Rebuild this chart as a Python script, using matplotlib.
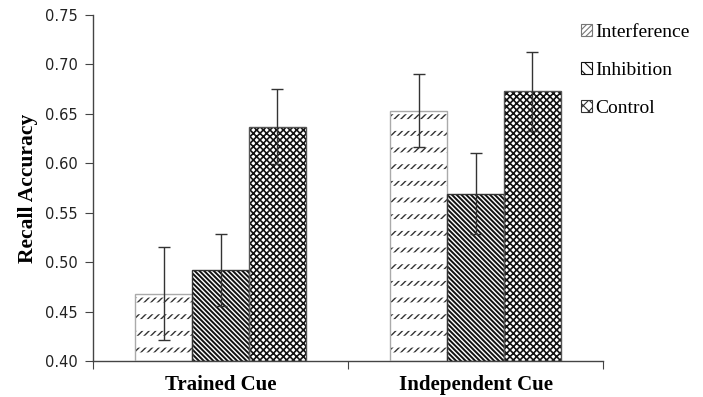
import numpy as np
import matplotlib
matplotlib.use("Agg")
import matplotlib.pyplot as plt
import matplotlib.patches as mpatches

# Data
categories = ["Trained Cue", "Independent Cue"]
groups = ["Interference", "Inhibition", "Control"]
means = {
    "Interference": [0.468, 0.653],
    "Inhibition":   [0.492, 0.569],
    "Control":      [0.637, 0.673],
}
errors = {
    "Interference": [0.047, 0.037],
    "Inhibition":   [0.036, 0.041],
    "Control":      [0.038, 0.040],
}
yticks = [0.40, 0.45, 0.50, 0.55, 0.60, 0.65, 0.70, 0.75]

# Styles
styles = {
    "Interference": dict(hatch="/////", hcol="#333333", edge="#aaaaaa", hlw=1.0),
    "Inhibition":   dict(hatch="\\" * 7, hcol="#111111", edge="#333333", hlw=1.4),
    "Control":      dict(hatch="xxxxx", hcol="#111111", edge="#555555", hlw=1.2),
}

SERIF = "Liberation Serif"
SANS = "DejaVu Sans"

fig = plt.figure(figsize=(7.03, 3.97), dpi=100)
ax = fig.add_axes([0.1323, 0.0907, 0.7255, 0.8715])

x = np.arange(len(categories))
bw = 0.223
offsets = [-bw, 0, bw]
base = 0.40

for g, off in zip(groups, offsets):
    st = styles[g]
    h = np.array(means[g]) - base
    plt.rcParams["hatch.linewidth"] = st["hlw"]
    ax.bar(x + off, h, bottom=base, width=bw, color="white",
           edgecolor=st["hcol"], hatch=st["hatch"], lw=0, zorder=2)
    if g == "Interference":
        # break diagonal lines into short dashes
        plt.rcParams["hatch.linewidth"] = 8.5
        ax.bar(x + off, h, bottom=base, width=bw, fill=False,
               edgecolor="white", hatch="-", lw=0, zorder=2.5)
    ax.bar(x + off, h, bottom=base, width=bw, fill=False,
           edgecolor=st["edge"], lw=1.0, zorder=3)
    ax.errorbar(x + off, means[g], yerr=errors[g], fmt="none",
                ecolor="#333333", elinewidth=1.0, capsize=4, capthick=1.0, zorder=4)

# legend swatches
plt.rcParams["hatch.linewidth"] = 0.8
handles = [
    mpatches.Patch(facecolor="white", edgecolor="#777777", hatch="//////", lw=0.8, label="Interference"),
    mpatches.Patch(facecolor="white", edgecolor="#111111", hatch="\\\\\\", lw=0.8, label="Inhibition"),
    mpatches.Patch(facecolor="white", edgecolor="#333333", hatch="xxx", lw=0.8, label="Control"),
]

ax.set_xlim(-0.5, 1.5)
ax.set_ylim(0.40, 0.75)
ax.set_yticks(yticks)
ax.set_yticklabels([f"{v:.2f}" for v in yticks], fontname=SANS, fontsize=10.5, color="#222222")

ax.set_xticks([-0.5, 0.5, 1.5])
ax.set_xticklabels([])
ax.set_xticks(x, minor=True)
ax.set_xticklabels(categories, minor=True, fontname=SERIF, fontweight="bold", fontsize=15)
ax.tick_params(axis="x", which="minor", length=0, pad=10)
ax.tick_params(axis="x", which="major", length=6, color="#444444")
ax.tick_params(axis="y", length=6, color="#444444", pad=5)

for s in ["top", "right"]:
    ax.spines[s].set_visible(False)
for s in ["left", "bottom"]:
    ax.spines[s].set_color("#444444")
    ax.spines[s].set_linewidth(1.0)

ax.set_ylabel("Recall Accuracy", fontname=SERIF, fontweight="bold", fontsize=15.5)
ax.yaxis.set_label_coords(-0.108, 0.5)

fig.legend(handles=handles, loc="upper left", bbox_to_anchor=(0.827, 0.94),
           frameon=False, prop={"family": SERIF, "size": 14},
           handlelength=0.55, handleheight=0.55, handletextpad=0.15,
           labelspacing=1.08, borderaxespad=0, borderpad=0)

fig.savefig("out.png", dpi=100)
